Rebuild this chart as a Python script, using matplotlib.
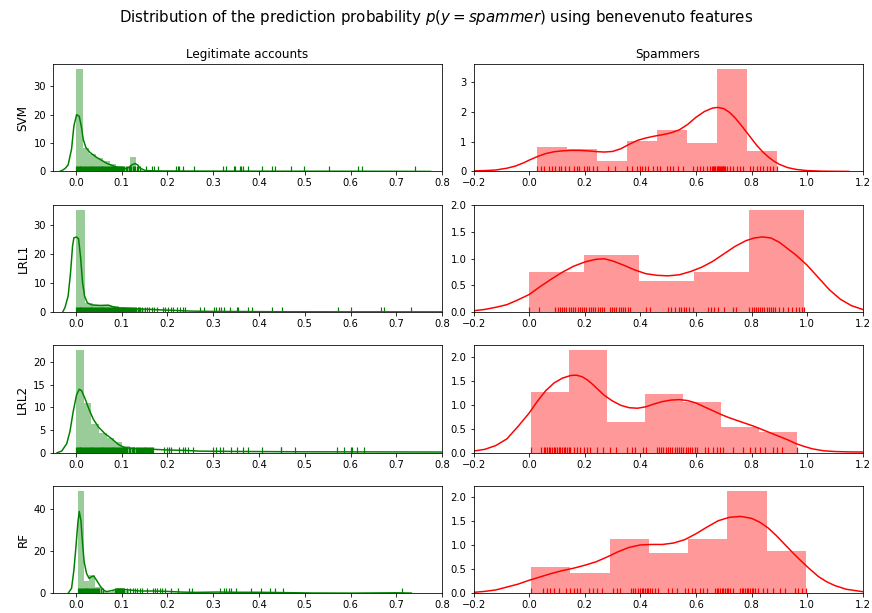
import numpy as np
import matplotlib.pyplot as plt
from matplotlib.collections import LineCollection
from matplotlib.ticker import MultipleLocator

models = ["SVM", "LRL1", "LRL2", "RF"]

# ---- legitimate accounts (left column) ----
svm_leg_edges = [0.0, 0.0147, 0.0294, 0.0441, 0.0588, 0.0735, 0.0882, 0.1029, 0.1176, 0.1323, 0.147]
svm_leg_heights = [36.0, 8.1, 6.0, 4.8, 3.7, 2.8, 2.0, 1.3, 5.0, 0.7]
svm_leg_kde_x = [-0.036, -0.031, -0.024, -0.017, -0.0095, -0.0044, 0.0015, 0.0073, 0.0124, 0.016,
                 0.0219, 0.0307, 0.045, 0.067, 0.089, 0.104, 0.115, 0.122, 0.129, 0.135, 0.140,
                 0.151, 0.170, 0.25, 0.35, 0.45, 0.55, 0.65, 0.775]
svm_leg_kde_y = [0.0, 0.3, 1.0, 2.3, 7.9, 16.0, 20.0, 19.4, 15.4, 11.3, 8.4, 6.7, 5.0, 2.9, 1.5,
                 0.9, 1.4, 2.3, 2.8, 2.3, 1.2, 0.35, 0.2, 0.15, 0.12, 0.1, 0.1, 0.08, 0.03]
svm_leg_rug = [0.000, 0.002, 0.004, 0.006, 0.008, 0.010, 0.012, 0.014, 0.016, 0.018, 0.020, 0.022,
               0.024, 0.026, 0.028, 0.030, 0.032, 0.034, 0.036, 0.038, 0.040, 0.042, 0.044, 0.046,
               0.048, 0.050, 0.052, 0.054, 0.056, 0.058, 0.060, 0.062, 0.064, 0.066, 0.068, 0.070,
               0.072, 0.074, 0.076, 0.078, 0.080, 0.082, 0.084, 0.086, 0.088, 0.090, 0.092, 0.094,
               0.096, 0.098, 0.100,
               0.103, 0.106, 0.109, 0.112, 0.115, 0.118, 0.121, 0.124, 0.127, 0.130, 0.133, 0.136, 0.140,
               0.153, 0.167, 0.170, 0.180, 0.218, 0.222, 0.226, 0.235, 0.257, 0.321, 0.328, 0.345,
               0.348, 0.358, 0.360, 0.364, 0.377, 0.407, 0.428, 0.434, 0.470, 0.499, 0.553, 0.616,
               0.625, 0.741]

lrl1_leg_edges = [0.0, 0.019, 0.038, 0.057, 0.076, 0.095, 0.114, 0.133, 0.152]
lrl1_leg_heights = [35.3, 3.0, 2.6, 2.4, 2.0, 1.4, 1.1, 0.9]
lrl1_leg_kde_x = [-0.029, -0.024, -0.017, -0.0117, -0.0073, -0.0044, 0.0015, 0.0058, 0.010, 0.0146,
                  0.019, 0.025, 0.034, 0.053, 0.071, 0.082, 0.096, 0.133, 0.18, 0.22, 0.25, 0.30,
                  0.36, 0.45, 0.60, 0.80]
lrl1_leg_kde_y = [0.0, 1.5, 5.5, 13.6, 22.8, 25.6, 25.9, 25.3, 19.3, 10.1, 5.5, 3.2, 2.5, 2.3, 2.4,
                  1.8, 1.4, 1.15, 0.8, 0.55, 0.35, 0.22, 0.2, 0.12, 0.1, 0.08]
lrl1_leg_rug = [0.000, 0.002, 0.004, 0.006, 0.008, 0.010, 0.012, 0.014, 0.016, 0.018, 0.020, 0.022,
                0.024, 0.026, 0.028, 0.030, 0.032, 0.034, 0.036, 0.038, 0.040, 0.042, 0.044, 0.046,
                0.048, 0.050, 0.052, 0.054, 0.056, 0.058, 0.060, 0.062, 0.064, 0.066, 0.068, 0.070,
                0.072, 0.074, 0.076, 0.078, 0.080, 0.082, 0.084, 0.086, 0.088, 0.090, 0.092, 0.094,
                0.096, 0.098, 0.100, 0.102, 0.104, 0.106, 0.108, 0.110, 0.112, 0.114, 0.116, 0.118,
                0.120, 0.122, 0.124, 0.126, 0.129, 0.132, 0.135, 0.138, 0.141,
                0.145, 0.150, 0.155, 0.160, 0.166, 0.171, 0.177, 0.190, 0.195, 0.202, 0.207, 0.213,
                0.220, 0.228, 0.233, 0.239, 0.272, 0.279, 0.301, 0.307, 0.312, 0.318, 0.324, 0.336,
                0.352, 0.355, 0.377, 0.385, 0.428, 0.450, 0.573, 0.600, 0.666, 0.673, 0.733]

lrl2_leg_edges = [0.0, 0.0168, 0.0336, 0.0504, 0.0672, 0.084, 0.1008, 0.1176, 0.1344, 0.1512, 0.168]
lrl2_leg_heights = [22.6, 10.9, 6.4, 4.3, 3.2, 2.4, 1.5, 1.1, 1.0, 0.8]
lrl2_leg_kde_x = [-0.041, -0.031, -0.020, -0.013, -0.0059, 0.0015, 0.0073, 0.0124, 0.0197, 0.029,
                  0.038, 0.049, 0.0635, 0.078, 0.093, 0.107, 0.133, 0.17, 0.20, 0.24, 0.27, 0.35,
                  0.50, 0.65, 0.80]
lrl2_leg_kde_y = [0.0, 0.36, 2.0, 4.7, 9.1, 12.8, 14.0, 13.7, 12.0, 9.5, 7.4, 5.7, 4.2, 3.1, 1.8,
                  1.1, 0.9, 0.75, 0.6, 0.5, 0.35, 0.28, 0.2, 0.18, 0.15]
lrl2_leg_rug = [0.000, 0.002, 0.004, 0.006, 0.008, 0.010, 0.012, 0.014, 0.016, 0.018, 0.020, 0.022,
                0.024, 0.026, 0.028, 0.030, 0.032, 0.034, 0.036, 0.038, 0.040, 0.042, 0.044, 0.046,
                0.048, 0.050, 0.052, 0.054, 0.056, 0.058, 0.060, 0.062, 0.064, 0.066, 0.068, 0.070,
                0.072, 0.074, 0.076, 0.078, 0.080, 0.082, 0.084, 0.086, 0.088, 0.090, 0.092, 0.094,
                0.096, 0.098, 0.100, 0.102, 0.104, 0.108, 0.110, 0.112, 0.116, 0.118, 0.122, 0.124,
                0.126, 0.128, 0.132, 0.134, 0.136, 0.138, 0.140, 0.142, 0.144, 0.146, 0.148, 0.150,
                0.152, 0.154, 0.156, 0.158, 0.160, 0.162, 0.164, 0.166, 0.168,
                0.193, 0.200, 0.204, 0.207, 0.225, 0.233, 0.238, 0.244, 0.255, 0.299, 0.306, 0.314,
                0.321, 0.339, 0.352, 0.364, 0.375, 0.406, 0.447, 0.448, 0.479, 0.570, 0.585, 0.601,
                0.603, 0.614, 0.630]

rf_leg_edges = [0.0044, 0.0168, 0.0292, 0.0416, 0.054, 0.0664, 0.0788, 0.0912, 0.1036, 0.116]
rf_leg_heights = [48.8, 6.0, 8.5, 3.0, 1.0, 0.5, 1.0, 1.6, 1.2]
rf_leg_kde_x = [-0.017, -0.0095, -0.0044, 0.0, 0.0044, 0.0073, 0.011, 0.0146, 0.018, 0.0234, 0.029,
                0.034, 0.039, 0.045, 0.053, 0.060, 0.067, 0.078, 0.089, 0.100, 0.115, 0.14, 0.17,
                0.20, 0.23, 0.26, 0.31, 0.35, 0.40, 0.45, 0.52, 0.60, 0.70, 0.733]
rf_leg_kde_y = [0.0, 2.4, 11.0, 22.0, 33.9, 39.0, 34.6, 23.6, 15.0, 9.4, 7.1, 7.9, 8.2, 6.3, 3.5,
                1.6, 0.8, 1.3, 1.9, 2.0, 1.6, 1.1, 1.1, 0.9, 0.6, 0.45, 0.6, 0.5, 0.5, 0.35, 0.15,
                0.1, 0.25, 0.12]
rf_leg_rug = [0.005, 0.007, 0.009, 0.011, 0.013, 0.015, 0.017, 0.019, 0.021, 0.023, 0.025, 0.027,
              0.029, 0.031, 0.033, 0.035, 0.037, 0.039, 0.041, 0.043, 0.045, 0.048, 0.051, 0.055,
              0.060, 0.085, 0.087, 0.089, 0.091, 0.093, 0.095, 0.097, 0.099, 0.101, 0.103, 0.105,
              0.111, 0.118, 0.124, 0.129, 0.133, 0.139, 0.144, 0.155, 0.168, 0.173, 0.177, 0.184,
              0.189, 0.195, 0.208, 0.224, 0.246, 0.253, 0.315, 0.324, 0.328, 0.334, 0.339, 0.350,
              0.382, 0.404, 0.423, 0.436, 0.452, 0.713]

# ---- spammers (right column) ----
svm_spam_edges = [0.029, 0.137, 0.244, 0.352, 0.459, 0.567, 0.675, 0.782, 0.890]
svm_spam_heights = [0.81, 0.75, 0.35, 1.01, 1.38, 0.95, 3.42, 0.68]
svm_spam_kde_x = [-0.20, -0.16, -0.12, -0.08, -0.05, -0.02, 0.0, 0.03, 0.06, 0.09, 0.12, 0.15,
                  0.18, 0.21, 0.24, 0.27, 0.30, 0.33, 0.36, 0.39, 0.42, 0.45, 0.48, 0.51, 0.54,
                  0.57, 0.60, 0.63, 0.66, 0.68, 0.70, 0.72, 0.74, 0.76, 0.78, 0.80, 0.82, 0.84,
                  0.86, 0.88, 0.90, 0.93, 0.96, 1.00, 1.05, 1.10, 1.15]
svm_spam_kde_y = [0.02, 0.03, 0.05, 0.11, 0.18, 0.29, 0.38, 0.50, 0.60, 0.66, 0.69, 0.705, 0.705,
                  0.69, 0.665, 0.65, 0.67, 0.76, 0.91, 1.04, 1.12, 1.18, 1.23, 1.29, 1.39, 1.57,
                  1.81, 2.00, 2.12, 2.14, 2.10, 1.98, 1.80, 1.58, 1.34, 1.10, 0.86, 0.66, 0.49,
                  0.35, 0.24, 0.13, 0.07, 0.03, 0.012, 0.006, 0.003]
svm_spam_rug = [0.029, 0.042, 0.054, 0.070, 0.082, 0.094, 0.106, 0.114, 0.130, 0.142, 0.160, 0.172,
                0.178, 0.198, 0.207, 0.216, 0.231, 0.243, 0.285, 0.309, 0.351, 0.369, 0.387, 0.397,
                0.405, 0.417, 0.429, 0.447, 0.459, 0.471, 0.495, 0.507, 0.519, 0.537, 0.555, 0.591,
                0.603, 0.615, 0.627, 0.639, 0.651, 0.657, 0.660, 0.665, 0.668, 0.670, 0.675, 0.678,
                0.681, 0.684, 0.687, 0.690, 0.693, 0.696, 0.699, 0.702, 0.705, 0.711, 0.723, 0.735,
                0.747, 0.759, 0.771, 0.795, 0.807, 0.819, 0.831, 0.843, 0.855, 0.867, 0.879, 0.890]

lrl1_spam_edges = [0.0, 0.198, 0.396, 0.594, 0.792, 0.990]
lrl1_spam_heights = [0.75, 1.065, 0.59, 0.75, 1.92]
lrl1_spam_kde_x = [-0.20, -0.16, -0.12, -0.08, -0.04, 0.0, 0.04, 0.08, 0.12, 0.16, 0.20, 0.24,
                   0.27, 0.30, 0.34, 0.38, 0.42, 0.46, 0.50, 0.54, 0.58, 0.62, 0.66, 0.70, 0.74,
                   0.78, 0.81, 0.84, 0.87, 0.90, 0.93, 0.96, 1.00, 1.04, 1.08, 1.12, 1.16, 1.20]
lrl1_spam_kde_y = [0.025, 0.05, 0.09, 0.14, 0.23, 0.33, 0.48, 0.62, 0.75, 0.86, 0.94, 0.99, 1.0,
                   0.96, 0.88, 0.79, 0.72, 0.69, 0.68, 0.70, 0.76, 0.84, 0.95, 1.09, 1.23, 1.34,
                   1.39, 1.41, 1.39, 1.31, 1.19, 1.07, 0.88, 0.65, 0.42, 0.24, 0.12, 0.05]
lrl1_spam_rug = [0.001, 0.037, 0.094, 0.102, 0.110, 0.118, 0.126, 0.134, 0.142, 0.150, 0.158, 0.166,
                 0.174, 0.182, 0.190, 0.198, 0.206, 0.214, 0.222, 0.230, 0.238, 0.246, 0.254, 0.262,
                 0.270, 0.290, 0.298, 0.306, 0.314, 0.322, 0.330, 0.338, 0.346, 0.354, 0.362, 0.420,
                 0.435, 0.500, 0.510, 0.525, 0.540, 0.548, 0.556, 0.565, 0.575, 0.590, 0.645, 0.655,
                 0.665, 0.680, 0.700, 0.735, 0.745, 0.790, 0.800, 0.808, 0.815, 0.822, 0.830, 0.838,
                 0.846, 0.854, 0.862, 0.870, 0.878, 0.886, 0.900, 0.915, 0.930, 0.945, 0.960, 0.970,
                 0.980, 0.990]

lrl2_spam_edges = [0.0075, 0.144, 0.281, 0.417, 0.554, 0.690, 0.827, 0.963]
lrl2_spam_heights = [1.276, 2.14, 0.65, 1.235, 1.06, 0.545, 0.44]
lrl2_spam_kde_x = [-0.20, -0.16, -0.12, -0.08, -0.04, 0.0, 0.03, 0.06, 0.09, 0.12, 0.15, 0.17,
                   0.19, 0.21, 0.23, 0.25, 0.27, 0.30, 0.33, 0.36, 0.39, 0.42, 0.45, 0.48, 0.51,
                   0.54, 0.57, 0.60, 0.63, 0.66, 0.69, 0.72, 0.75, 0.78, 0.81, 0.84, 0.87, 0.90,
                   0.93, 0.96, 0.99, 1.02, 1.06, 1.10, 1.15, 1.20]
lrl2_spam_kde_y = [0.035, 0.07, 0.15, 0.29, 0.55, 0.83, 1.08, 1.30, 1.46, 1.56, 1.615, 1.62, 1.59,
                   1.52, 1.42, 1.31, 1.20, 1.08, 0.99, 0.94, 0.93, 0.96, 1.02, 1.07, 1.10, 1.11,
                   1.09, 1.04, 0.96, 0.88, 0.80, 0.73, 0.67, 0.61, 0.55, 0.48, 0.41, 0.34, 0.27,
                   0.19, 0.13, 0.08, 0.04, 0.025, 0.017, 0.014]
lrl2_spam_rug = [0.008, 0.043, 0.052, 0.058, 0.064, 0.070, 0.076, 0.082, 0.088, 0.094, 0.100, 0.106,
                 0.112, 0.118, 0.124, 0.130, 0.136, 0.142, 0.147, 0.160, 0.172, 0.184, 0.196, 0.208,
                 0.220, 0.243, 0.267, 0.291, 0.313, 0.351, 0.369, 0.381, 0.411, 0.421, 0.459, 0.467,
                 0.475, 0.483, 0.491, 0.499, 0.507, 0.515, 0.523, 0.531, 0.539, 0.547, 0.555, 0.563,
                 0.571, 0.579, 0.587, 0.595, 0.603, 0.633, 0.645, 0.663, 0.675, 0.687, 0.699, 0.735,
                 0.771, 0.795, 0.813, 0.831, 0.849, 0.879, 0.891, 0.909, 0.963]

rf_spam_edges = [0.0075, 0.148, 0.290, 0.431, 0.572, 0.713, 0.855, 0.996]
rf_spam_heights = [0.553, 0.41, 1.133, 0.826, 1.133, 2.116, 0.867]
rf_spam_kde_x = [-0.20, -0.16, -0.12, -0.08, -0.04, 0.0, 0.04, 0.08, 0.12, 0.16, 0.20, 0.24, 0.28,
                 0.32, 0.36, 0.40, 0.44, 0.48, 0.52, 0.56, 0.60, 0.64, 0.68, 0.72, 0.76, 0.80,
                 0.83, 0.86, 0.89, 0.92, 0.95, 0.98, 1.01, 1.04, 1.07, 1.10, 1.14, 1.20]
rf_spam_kde_y = [0.02, 0.04, 0.07, 0.13, 0.19, 0.27, 0.34, 0.41, 0.47, 0.52, 0.58, 0.65, 0.75,
                 0.86, 0.95, 1.00, 1.01, 1.01, 1.04, 1.11, 1.23, 1.37, 1.50, 1.57, 1.59, 1.55,
                 1.47, 1.35, 1.19, 1.01, 0.83, 0.66, 0.50, 0.35, 0.24, 0.16, 0.085, 0.034]
rf_spam_rug = [0.007, 0.049, 0.064, 0.076, 0.088, 0.106, 0.133, 0.148, 0.160, 0.172, 0.184, 0.214,
               0.229, 0.243, 0.263, 0.303, 0.315, 0.327, 0.366, 0.373, 0.381, 0.393, 0.399, 0.405,
               0.411, 0.417, 0.423, 0.429, 0.435, 0.441, 0.453, 0.465, 0.501, 0.513, 0.531, 0.561,
               0.573, 0.585, 0.597, 0.615, 0.627, 0.639, 0.669, 0.675, 0.681, 0.687, 0.693, 0.699,
               0.705, 0.711, 0.717, 0.723, 0.735, 0.759, 0.765, 0.771, 0.777, 0.783, 0.789, 0.795,
               0.801, 0.807, 0.813, 0.825, 0.843, 0.855, 0.879, 0.903, 0.921, 0.957, 0.969, 0.981,
               0.996]

legit = [
    (svm_leg_edges, svm_leg_heights, svm_leg_kde_x, svm_leg_kde_y, svm_leg_rug),
    (lrl1_leg_edges, lrl1_leg_heights, lrl1_leg_kde_x, lrl1_leg_kde_y, lrl1_leg_rug),
    (lrl2_leg_edges, lrl2_leg_heights, lrl2_leg_kde_x, lrl2_leg_kde_y, lrl2_leg_rug),
    (rf_leg_edges, rf_leg_heights, rf_leg_kde_x, rf_leg_kde_y, rf_leg_rug),
]
spam = [
    (svm_spam_edges, svm_spam_heights, svm_spam_kde_x, svm_spam_kde_y, svm_spam_rug),
    (lrl1_spam_edges, lrl1_spam_heights, lrl1_spam_kde_x, lrl1_spam_kde_y, lrl1_spam_rug),
    (lrl2_spam_edges, lrl2_spam_heights, lrl2_spam_kde_x, lrl2_spam_kde_y, lrl2_spam_rug),
    (rf_spam_edges, rf_spam_heights, rf_spam_kde_x, rf_spam_kde_y, rf_spam_rug),
]


def distplot(ax, edges, heights, kde_x, kde_y, rug, color):
    # histogram (density), kde line and rug, like seaborn's old distplot
    ax.hist(edges[:-1], bins=edges, weights=heights, color=color, alpha=0.4)
    ax.plot(kde_x, kde_y, color=color, lw=1.5)
    segs = [[(x, 0), (x, 0.05)] for x in rug]
    lc = LineCollection(segs, colors=color, linewidths=1.2,
                        transform=ax.get_xaxis_transform())
    ax.add_collection(lc, autolim=False)


fig, axes = plt.subplots(4, 2, figsize=(872 / 72, 613 / 72), dpi=72)
fig.subplots_adjust(left=0.0608, right=0.9893, bottom=0.0321, top=0.8956,
                    wspace=0.081, hspace=0.308)

left_steps = [10, 10, 5, 20]
right_steps = [1, 0.5, 0.5, 0.5]

for i, name in enumerate(models):
    ax = axes[i, 0]
    distplot(ax, *legit[i], color="g")
    ax.set_xlim(-0.05, 0.8)
    ax.yaxis.set_major_locator(MultipleLocator(left_steps[i]))
    ax.set_ylabel(name, fontsize=12)

    ax = axes[i, 1]
    distplot(ax, *spam[i], color="r")
    ax.set_xlim(-0.2, 1.2)
    ax.yaxis.set_major_locator(MultipleLocator(right_steps[i]))

for ax in axes.flat:
    ax.tick_params(labelsize=10)

axes[0, 0].set_title("Legitimate accounts", fontsize=12)
axes[0, 1].set_title("Spammers", fontsize=12)
fig.suptitle(r"Distribution of the prediction probability $p(y=spammer)$ using benevenuto features",
             fontsize=15, y=0.972, va="center")

fig.savefig("out.png", dpi=72)
